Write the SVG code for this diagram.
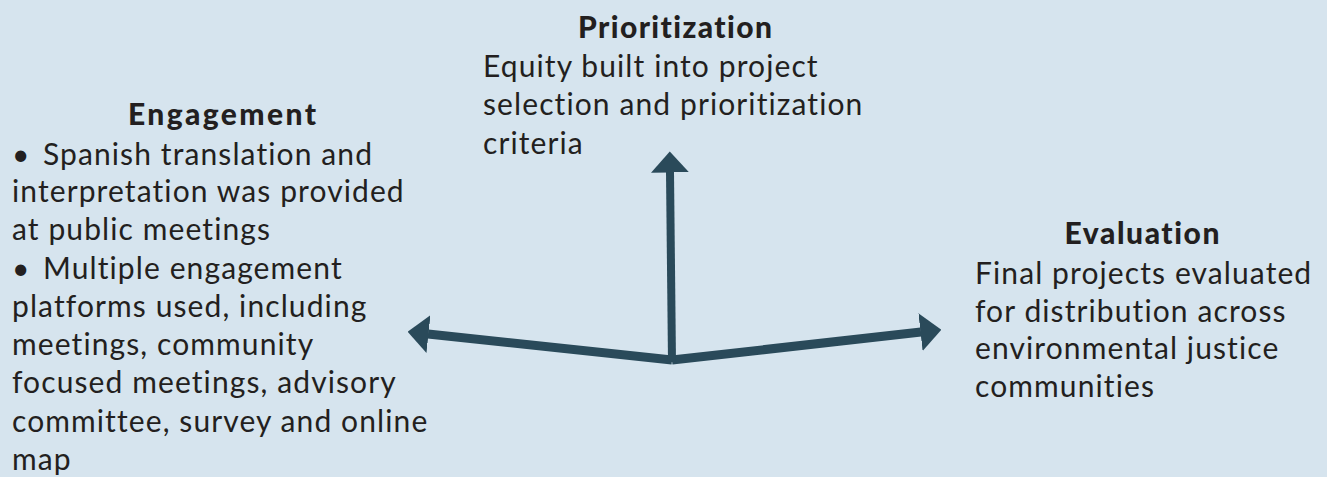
<svg xmlns="http://www.w3.org/2000/svg" width="1327" height="477" viewBox="0 0 1327 477">
<style>
.h{font-family:Lato,"Liberation Sans",sans-serif;font-weight:900;font-size:30px;fill:#231f20;text-anchor:middle;font-variant-ligatures:none}
.b{font-family:Lato,"Liberation Sans",sans-serif;font-size:30px;letter-spacing:1.1px;fill:#231f20;font-variant-ligatures:none}
.c{stroke:#2a4a5a;stroke-width:9;fill:none;stroke-linecap:butt}
</style>
<defs>
<marker id="ah" markerUnits="userSpaceOnUse" markerWidth="21" markerHeight="38" viewBox="0 0 21 38" refX="0.5" refY="19" orient="auto">
<path d="M0,0 L21,19 L0,38 Z" fill="#2a4a5a"/>
</marker>
</defs>
<rect width="1327" height="477" fill="#d6e4ee"/>
<g id="connectors">
<line class="c" x1="672" y1="360" x2="428" y2="334" marker-end="url(#ah)"/>
<line class="c" x1="672" y1="360" x2="921" y2="332" marker-end="url(#ah)"/>
<line class="c" x1="672" y1="362" x2="670" y2="172" style="stroke-width:8" marker-end="url(#ah)"/>
</g>
<g id="prioritization">
<text class="h" x="675" y="38" textLength="194" lengthAdjust="spacing">Prioritization</text>
<text class="b"><tspan x="483" y="77">Equity built into project</tspan><tspan x="483" y="115">selection and prioritization</tspan><tspan x="483" y="154">criteria</tspan></text>
</g>
<g id="engagement">
<text class="h" x="222" y="125" textLength="188" lengthAdjust="spacing">Engagement</text>
<text class="b"><tspan x="12" y="165">•</tspan><tspan x="43" y="165">Spanish translation and</tspan><tspan x="12" y="202">interpretation was provided</tspan><tspan x="12" y="240">at public meetings</tspan><tspan x="12" y="279">•</tspan><tspan x="43" y="279">Multiple engagement</tspan><tspan x="12" y="317">platforms used, including</tspan><tspan x="12" y="355">meetings, community</tspan><tspan x="12" y="393">focused meetings, advisory</tspan><tspan x="12" y="432">committee, survey and online</tspan><tspan x="12" y="470">map</tspan></text>
</g>
<g id="evaluation">
<text class="h" x="1142" y="244" textLength="155" lengthAdjust="spacing">Evaluation</text>
<text class="b"><tspan x="975" y="284">Final projects evaluated</tspan><tspan x="975" y="322">for distribution across</tspan><tspan x="975" y="359">environmental justice</tspan><tspan x="975" y="397">communities</tspan></text>
</g>
</svg>
